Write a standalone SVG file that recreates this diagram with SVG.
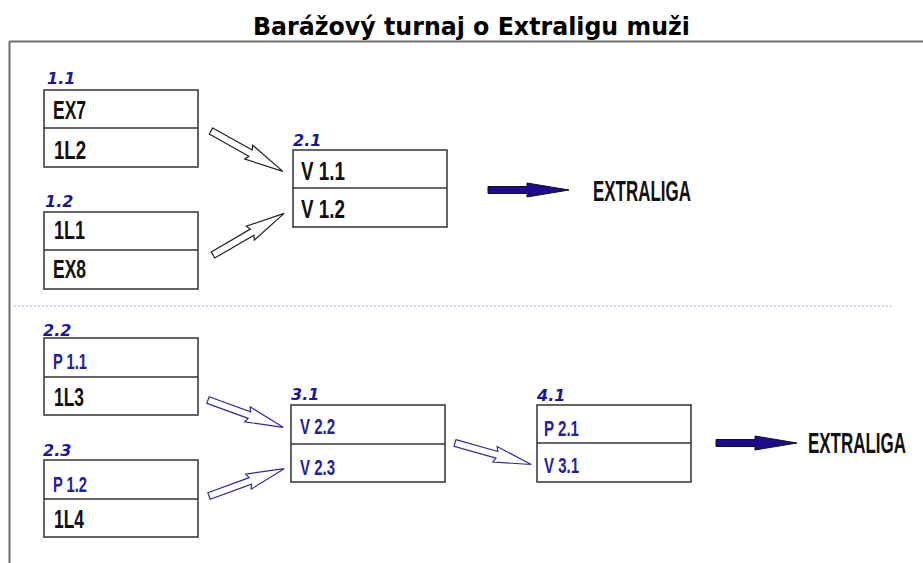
<svg xmlns="http://www.w3.org/2000/svg" xmlns:xlink="http://www.w3.org/1999/xlink" width="923" height="563" viewBox="0 0 923 563">
<style>
.box{fill:#fff;stroke:#333;stroke-width:1.5}
.div{stroke:#333;stroke-width:1.5}
.lbl{font-family:"DejaVu Sans",Verdana,sans-serif;font-weight:bold;font-style:italic;font-size:16px;fill:#1c1699}
.bt{font-family:"Liberation Sans",Arial,sans-serif;font-weight:bold;font-size:26px;fill:#111}
.bb{font-family:"Liberation Sans",Arial,sans-serif;font-weight:bold;font-size:22px;fill:#24209a}
.ext{font-family:"Liberation Sans",Arial,sans-serif;font-weight:bold;font-size:30px;fill:#111}
.ha{fill:#fff;stroke:#222;stroke-width:1.2;stroke-linejoin:miter}
.hb{fill:#fff;stroke:#2e2a9e;stroke-width:1.2;stroke-linejoin:miter}
.fa{fill:#1c0a8f;stroke:#111;stroke-width:1}
</style>
<defs>
<path id="harr" d="M0,-3.5 L44,-3.5 L42,-8 L80,0 L42,8 L44,3.5 L0,3.5 Z"/>
</defs>
<rect width="923" height="563" fill="#fff"/>
<text x="253" y="35" font-family="DejaVu Sans,Verdana,sans-serif" font-weight="bold" font-size="24" fill="#000" textLength="437" lengthAdjust="spacingAndGlyphs">Barážový turnaj o Extraligu muži</text>
<g id="frame">
<line x1="9.5" y1="41.5" x2="923" y2="41.5" stroke="#6e6e6e" stroke-width="2"/>
<line x1="9.5" y1="41.5" x2="9.5" y2="563" stroke="#6e6e6e" stroke-width="2"/>
<line x1="14" y1="306" x2="893" y2="306" stroke="#8890b8" stroke-width="1.2" stroke-dasharray="1.5 2.5"/>
</g>
<g id="n11">
<text class="lbl" x="47" y="84">1.1</text>
<rect class="box" x="44" y="90" width="154" height="77"/>
<line class="div" x1="44" y1="128" x2="198" y2="128"/>
<text class="bt" x="53" y="119" textLength="33" lengthAdjust="spacingAndGlyphs">EX7</text>
<text class="bt" x="54" y="159" textLength="32" lengthAdjust="spacingAndGlyphs">1L2</text>
</g>
<g id="n12">
<text class="lbl" x="45" y="207">1.2</text>
<rect class="box" x="44" y="212" width="154" height="77"/>
<line class="div" x1="44" y1="250" x2="198" y2="250"/>
<text class="bt" x="54" y="239" textLength="31" lengthAdjust="spacingAndGlyphs">1L1</text>
<text class="bt" x="53" y="278" textLength="33" lengthAdjust="spacingAndGlyphs">EX8</text>
</g>
<g id="n21">
<text class="lbl" x="293" y="146">2.1</text>
<rect class="box" x="293" y="150" width="154" height="77"/>
<line class="div" x1="293" y1="188" x2="447" y2="188"/>
<text class="bt" x="301" y="180" textLength="44" lengthAdjust="spacingAndGlyphs">V 1.1</text>
<text class="bt" x="301" y="218" textLength="44" lengthAdjust="spacingAndGlyphs">V 1.2</text>
</g>
<g id="n22">
<text class="lbl" x="43" y="336">2.2</text>
<rect class="box" x="44" y="338" width="154" height="77"/>
<line class="div" x1="44" y1="377" x2="198" y2="377"/>
<text class="bb" x="53" y="369" textLength="34" lengthAdjust="spacingAndGlyphs">P 1.1</text>
<text class="bt" x="54" y="406" textLength="30" lengthAdjust="spacingAndGlyphs">1L3</text>
</g>
<g id="n23">
<text class="lbl" x="43" y="456">2.3</text>
<rect class="box" x="44" y="460" width="154" height="77"/>
<line class="div" x1="44" y1="499" x2="198" y2="499"/>
<text class="bb" x="53" y="492" textLength="34" lengthAdjust="spacingAndGlyphs">P 1.2</text>
<text class="bt" x="54" y="528" textLength="30" lengthAdjust="spacingAndGlyphs">1L4</text>
</g>
<g id="n31">
<text class="lbl" x="291" y="400">3.1</text>
<rect class="box" x="291" y="405" width="154" height="77"/>
<line class="div" x1="291" y1="444" x2="445" y2="444"/>
<text class="bb" x="300" y="434" textLength="35" lengthAdjust="spacingAndGlyphs">V 2.2</text>
<text class="bb" x="300" y="475" textLength="35" lengthAdjust="spacingAndGlyphs">V 2.3</text>
</g>
<g id="n41">
<text class="lbl" x="537" y="401">4.1</text>
<rect class="box" x="537" y="405" width="154" height="77"/>
<line class="div" x1="537" y1="443" x2="691" y2="443"/>
<text class="bb" x="544" y="436" textLength="35" lengthAdjust="spacingAndGlyphs">P 2.1</text>
<text class="bb" x="544" y="473" textLength="35" lengthAdjust="spacingAndGlyphs">V 3.1</text>
</g>
<g id="ext1">
<text class="ext" transform="translate(593,201) scale(0.565,1)">EXTRALIGA</text>
</g>
<g id="ext2">
<text class="ext" transform="translate(808,453) scale(0.565,1)">EXTRALIGA</text>
</g>
<g id="connectors">
<use xlink:href="#harr" class="ha" transform="translate(211,131) rotate(29.3) scale(1.03,1)"/>
<use xlink:href="#harr" class="ha" transform="translate(213,255) rotate(-30.3) scale(1.03,1)"/>
<use xlink:href="#harr" class="hb" transform="translate(208,400) rotate(20) scale(1.0,1)"/>
<use xlink:href="#harr" class="hb" transform="translate(209,496) rotate(-20) scale(1.0,1)"/>
<use xlink:href="#harr" class="hb" transform="translate(455,443) rotate(15.75) scale(0.99,1)"/>
<polygon class="fa" points="488,186.5 527,186.5 527,183 569,190 527,197 527,193.5 488,193.5"/>
<polygon class="fa" points="716,439.5 755,439.5 755,436 797,443 755,450 755,446.5 716,446.5"/>
</g>
</svg>
